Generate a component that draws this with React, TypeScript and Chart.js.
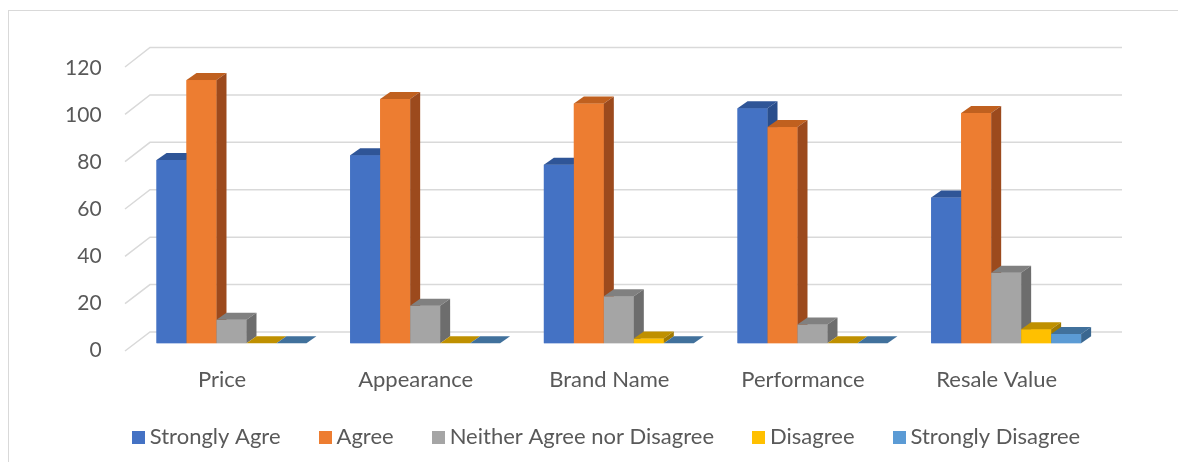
import React, { useEffect, useRef } from 'react';
import { Chart, registerables } from 'chart.js';

Chart.register(...registerables);

const categories = ['Price', 'Appearance', 'Brand Name', 'Performance', 'Resale Value'];
const seriesNames = ['Strongly Agre', 'Agree', 'Neither Agree nor Disagree', 'Disagree', 'Strongly Disagree'];
const stronglyAgree = [78, 80, 76, 100, 62];
const agree = [112, 104, 102, 92, 98];
const neither = [10, 16, 20, 8, 30];
const disagree = [0, 0, 2, 0, 6];
const stronglyDisagree = [0, 0, 0, 0, 4];
const yMin = 0;
const yMax = 120;
const yStep = 20;

const frontColors = ['#4472C4', '#ED7D31', '#A5A5A5', '#FFC000', '#5B9BD5'];
const topColors = ['#2F5597', '#C0601F', '#808080', '#BF9000', '#41719C'];
const sideColors = ['#2A4E8C', '#9C4A1D', '#6D6D6D', '#A07A00', '#3A6790'];

const CW = 1177;
const CH = 451;
const DX = 10;
const DY = 7;
const FONT = 'Lato, "Open Sans", sans-serif';
const TEXT = '#595959';

const wallGrid = {
  id: 'wallGrid',
  afterLayout(chart: any) {
    // keep the category labels from being clipped by the axis box
    const xs = chart.scales.x;
    if (xs) xs.bottom = xs.top + 80;
  },
  beforeDatasetsDraw(chart: any) {
    const { ctx, chartArea, scales } = chart;
    const ys = scales.y;
    const bottom = chartArea.bottom;
    const fx = chartArea.left - 9.65;
    const bx = chartArea.left + 15.35;
    const rx = chartArea.right + 19;
    ctx.save();
    ctx.strokeStyle = '#D9D9D9';
    ctx.lineWidth = 1.5;
    ys.ticks.forEach((t: any) => {
      const py = ys.getPixelForValue(t.value);
      const h = bottom - py;
      const fy = bottom + 7.7 - h * 1.007;
      const by = bottom - 11.3 - h * 1.009;
      ctx.beginPath();
      ctx.moveTo(fx, fy);
      ctx.lineTo(bx, by);
      ctx.lineTo(rx, by);
      ctx.stroke();
    });
    ctx.restore();
  },
};

const bars3d = {
  id: 'bars3d',
  afterDatasetsDraw(chart: any) {
    const { ctx } = chart;
    const n = chart.data.labels.length;
    const metas = chart.data.datasets.map((_: any, i: number) => chart.getDatasetMeta(i));
    ctx.save();
    for (let j = 0; j < n; j++) {
      for (let i = 0; i < metas.length; i++) {
        const el = metas[i].data[j];
        if (!el) continue;
        const { x, y, base, width } = el.getProps(['x', 'y', 'base', 'width'], true);
        const l = x - width / 2;
        const r = x + width / 2;
        const top = Math.min(y, base);
        const bot = Math.max(y, base);
        ctx.fillStyle = frontColors[i];
        ctx.fillRect(l, top, r - l, bot - top);
        ctx.fillStyle = topColors[i];
        ctx.beginPath();
        ctx.moveTo(l, top);
        ctx.lineTo(l + DX, top - DY);
        ctx.lineTo(r + DX, top - DY);
        ctx.lineTo(r, top);
        ctx.closePath();
        ctx.fill();
        if (bot - top > 0.5) {
          ctx.fillStyle = sideColors[i];
          ctx.beginPath();
          ctx.moveTo(r, top);
          ctx.lineTo(r + DX, top - DY);
          ctx.lineTo(r + DX, bot - DY);
          ctx.lineTo(r, bot);
          ctx.closePath();
          ctx.fill();
        }
      }
    }
    ctx.restore();
  },
};

function makeSwatch(color: string) {
  const c = document.createElement('canvas');
  c.width = 13;
  c.height = 13;
  const g = c.getContext('2d')!;
  g.fillStyle = color;
  g.fillRect(0, 0, 13, 13);
  return c;
}

export default function App() {
  const ref = useRef<HTMLCanvasElement | null>(null);

  useEffect(() => {
    if (!ref.current) return;
    const swatches = frontColors.map(makeSwatch);
    const values = [stronglyAgree, agree, neither, disagree, stronglyDisagree];
    const chart = new Chart(ref.current, {
      type: 'bar',
      data: {
        labels: categories,
        datasets: values.map((v, i) => ({
          label: seriesNames[i],
          data: v,
          backgroundColor: frontColors[i],
          borderWidth: 0,
          barPercentage: 1,
          categoryPercentage: 0.774,
        })),
      },
      options: {
        responsive: false,
        animation: false,
        devicePixelRatio: 1,
        layout: { padding: { top: 50.3, bottom: 4, left: 23, right: 0 } },
        scales: {
          x: {
            type: 'category',
            grid: { display: false, drawTicks: false },
            border: { display: false },
            ticks: {
              font: { family: FONT, size: 22 },
              color: TEXT,
              padding: 23,
              labelOffset: -9.5,
              maxRotation: 0,
              autoSkip: false,
            },
            afterFit: (s: any) => { s.height = 38.7; },
          },
          y: {
            type: 'linear',
            position: 'left',
            min: yMin,
            max: yMax,
            grid: { display: false, drawTicks: false },
            border: { display: false },
            ticks: {
              stepSize: yStep,
              font: { family: FONT, size: 21 },
              color: TEXT,
              padding: 33,
              labelOffset: 6.5,
            },
            afterFit: (s: any) => { s.width = 102.65; },
          },
          yR: {
            type: 'linear',
            position: 'right',
            display: true,
            grid: { display: false, drawTicks: false },
            border: { display: false },
            ticks: { display: false },
            afterFit: (s: any) => { s.width = 83; },
          },
        },
        plugins: {
          tooltip: { enabled: false },
          legend: {
            position: 'bottom',
            labels: {
              usePointStyle: true,
              boxWidth: 1,
              boxHeight: 13,
              padding: 44,
              color: TEXT,
              font: { family: FONT, size: 22 },
              generateLabels: (c: any) => {
                const items = (Chart.defaults.plugins.legend.labels as any).generateLabels(c);
                items.sort((a: any, b: any) => a.datasetIndex - b.datasetIndex);
                items.forEach((it: any) => { it.pointStyle = swatches[it.datasetIndex]; });
                return items;
              },
            },
          },
        },
      },
      plugins: [wallGrid, bars3d],
    } as any);
    return () => chart.destroy();
  }, []);

  return (
    <div style={{ paddingTop: 2, marginRight: -8 }}>
      <div style={{ borderLeft: '1px solid #D9D9D9', borderTop: '1px solid #D9D9D9' }}>
        <canvas ref={ref} width={CW} height={CH} style={{ display: 'block', width: CW, height: CH }} />
      </div>
    </div>
  );
}
